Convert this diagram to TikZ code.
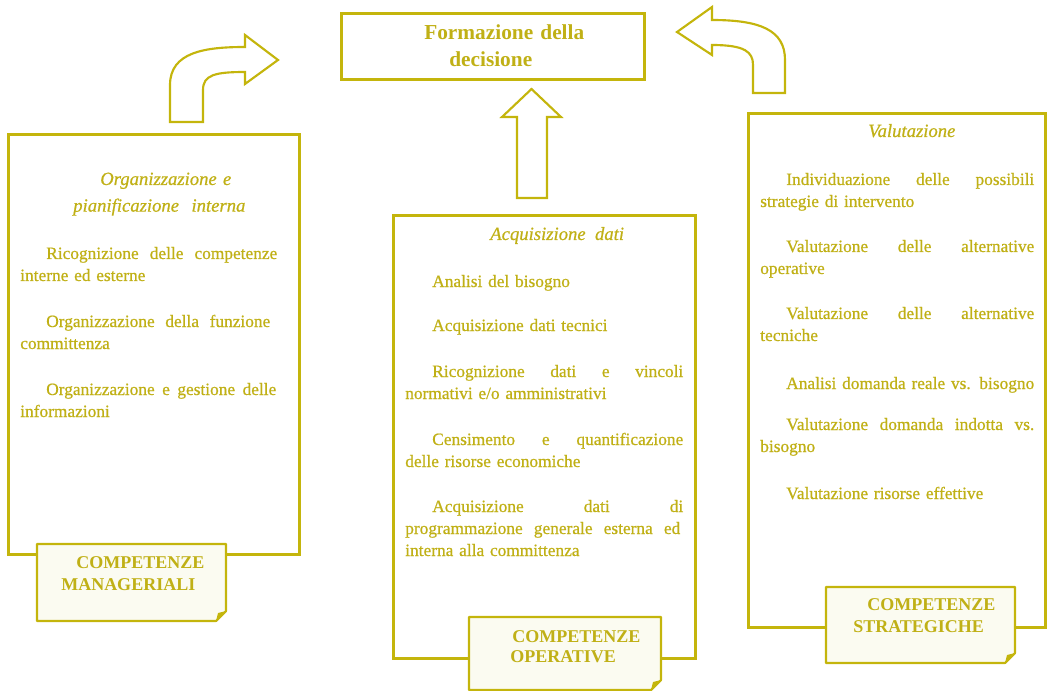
\documentclass[tikz,border=0pt]{standalone}
\usepackage{fontspec}
\setmainfont{Liberation Serif}
\newfontfamily\bodyfont[FakeBold=0.7]{Liberation Serif}
\usetikzlibrary{calc}
\newlength\px \setlength\px{0.75pt}
\definecolor{oliv}{RGB}{196,181,12}
\definecolor{olivtxt}{RGB}{192,176,22}
\definecolor{cream}{RGB}{251,251,241}
\newcommand\jl[2]{{\spaceskip=0.3em plus 1fil\relax\makebox[#1\px][s]{#2}}}
\newcommand\ind[1]{\hspace*{#1\px}}
\begin{document}
\begin{tikzpicture}[x=0.75pt,y=-0.75pt,
  bigbox/.style={draw=oliv, line width=1.9pt, inner sep=0, anchor=north west},
  blockarrow/.style={draw=oliv, line width=1.6pt, line join=miter, fill=white},
  labbox/.style={draw=oliv, line width=1.6pt, fill=cream, line join=round},
  fold/.style={fill=oliv},
  para/.style={anchor=base west, inner sep=0, text=olivtxt, align=left,
    font=\bodyfont\fontsize{13}{16.5}\selectfont},
  headtxt/.style={anchor=base west, inner sep=0, text=olivtxt, align=left,
    font=\bodyfont\fontsize{14}{20}\selectfont\itshape},
  titletxt/.style={anchor=base west, inner sep=0, text=olivtxt, align=left,
    font=\fontsize{16}{20.25}\selectfont\bfseries},
  labtxt/.style={anchor=base west, inner sep=0, text=olivtxt, align=left,
    font=\fontsize{13.5}{16.5}\selectfont\bfseries}]
\useasboundingbox (0,0) rectangle (1048,691);

% main boxes
\node[bigbox, line width=2.3pt, minimum width=303\px, minimum height=66\px] (top) at (340,12) {};
\node[bigbox, minimum width=291\px, minimum height=420\px] (left) at (7,133) {};
\node[bigbox, minimum width=302\px, minimum height=443\px] (mid) at (392,214) {};
\node[bigbox, minimum width=297\px, minimum height=514\px] (right) at (747,112) {};

% block arrows
\draw[blockarrow] (517,198) -- (517,117) -- (502,117) -- (531.5,89) -- (561,117) -- (547,117) -- (547,198) -- cycle;
\draw[blockarrow] (170,122) -- (170,85) .. controls (170,52) and (205,47) .. (245,47)
  -- (245,35) -- (278,60) -- (245,84) -- (245,72)
  .. controls (215,72) and (203,75) .. (203,90) -- (203,122) -- cycle;
\draw[blockarrow] (785,93) -- (785,60) .. controls (785,30) and (760,20) .. (712,20)
  -- (712,7) -- (677,32) -- (712,55) -- (712,45)
  .. controls (745,45) and (753,52) .. (753,65) -- (753,93) -- cycle;

% label boxes
\coordinate (lmA) at (37,544);  \coordinate (lmB) at (226,621);
\coordinate (loA) at (469,617); \coordinate (loB) at (661,690);
\coordinate (lsA) at (826,587); \coordinate (lsB) at (1015,663);
\foreach \a/\b in {lmA/lmB, loA/loB, lsA/lsB}{
  \draw[labbox] (\a) -| ($(\b)+(0,-10)$) -- ($(\b)+(-10,0)$) -| (\a) -- cycle;
  \fill[fold] ($(\b)+(0,-10)$) -- ($(\b)+(-10,0)$) .. controls ($(\b)+(-9,-4)$) .. ($(\b)+(-8,-8)$) .. controls ($(\b)+(-4,-9)$) .. cycle;
}

% title
\node[titletxt, text width=250\px] (ttl) at (424,40) {Formazione della\\\ind{25}decisione};

% left block
\node[headtxt, text width=200\px] (lh) at (73,185) {\ind{27}Organizzazione e\\pianificazione\ \ interna};
\node[para, text width=262\px] (l1) at (20,259) {\ind{26}\jl{231}{Ricognizione delle competenze}\\interne ed esterne};
\node[para, text width=262\px] (l2) at (20,327) {\ind{26}\jl{224}{Organizzazione della funzione}\\committenza};
\node[para, text width=262\px] (l3) at (20,395) {\ind{26}\jl{230}{Organizzazione e gestione delle}\\informazioni};

% middle block
\node[headtxt] (mh) at (490,240) {Acquisizione\ \ dati};
\node[para, text width=282\px] (m1) at (405,287) {\ind{27}Analisi del bisogno};
\node[para, text width=282\px] (m2) at (405,331) {\ind{27}Acquisizione dati tecnici};
\node[para, text width=282\px] (m3) at (405,377) {\ind{27}\jl{251}{Ricognizione dati e vincoli}\\normativi e/o amministrativi};
\node[para, text width=282\px] (m4) at (405,445) {\ind{27}\jl{251}{Censimento e quantificazione}\\delle risorse economiche};
\node[para, text width=282\px] (m5) at (405,512) {\ind{27}\jl{251}{Acquisizione dati di}\\\jl{275}{programmazione generale esterna ed}\\interna alla committenza};

% right block
\node[headtxt] (rh) at (868,137) {Valutazione};
\node[para, text width=278\px] (r1) at (760,185) {\ind{26}\jl{248}{Individuazione delle possibili}\\strategie di intervento};
\node[para, text width=278\px] (r2) at (760,252) {\ind{26}\jl{248}{Valutazione delle alternative}\\operative};
\node[para, text width=278\px] (r3) at (760,319) {\ind{26}\jl{248}{Valutazione delle alternative}\\tecniche};
\node[para, text width=278\px] (r4) at (760,389) {\ind{26}\jl{248}{Analisi domanda reale vs. bisogno}};
\node[para, text width=278\px] (r5) at (760,430) {\ind{26}\jl{248}{Valutazione domanda indotta vs.}\\bisogno};
\node[para, text width=278\px] (r6) at (760,499) {\ind{26}Valutazione risorse effettive};

% label texts
\node[labtxt, text width=170\px] (lmt) at (61,568) {\ind{15}COMPETENZE\\MANAGERIALI};
\node[labtxt, text width=170\px, font=\fontsize{13.5}{15}\selectfont\bfseries] (lot) at (510,642) {\ind{2}COMPETENZE\\OPERATIVE};
\node[labtxt, text width=170\px] (lst) at (853,610) {\ind{14}COMPETENZE\\STRATEGICHE};
\end{tikzpicture}
\end{document}
